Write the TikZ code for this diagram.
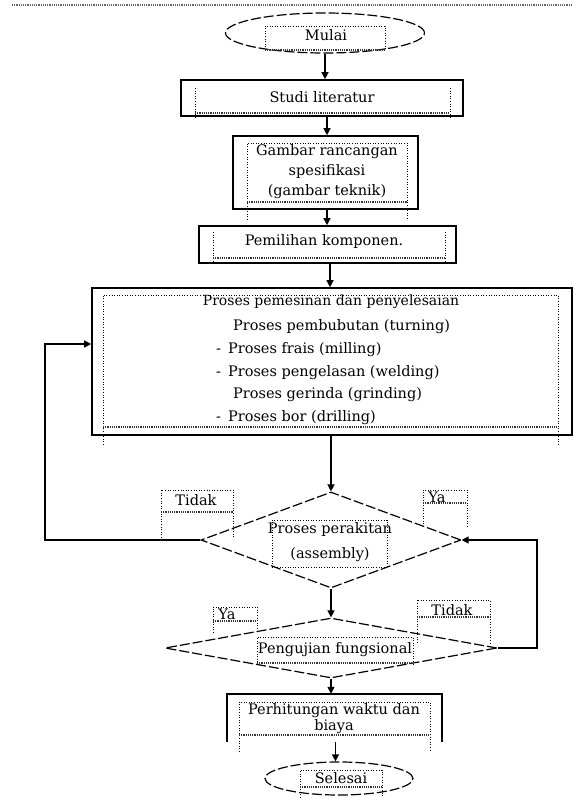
\documentclass[tikz,border=0pt]{standalone}
\usepackage{fontspec}
\setmainfont{DejaVu Serif}
\usetikzlibrary{shapes.geometric,arrows.meta,calc}
\begin{document}
\begin{tikzpicture}[x=1pt,y=-1pt,
  box/.style={draw,line width=1.6pt,inner sep=0pt},
  ell/.style={ellipse,draw,dash pattern=on 10pt off 3pt,line width=1.2pt,inner sep=0pt},
  dia/.style={diamond,draw,dash pattern=on 10pt off 3pt,line width=1.2pt,inner sep=0pt},
  frame/.style={line width=1pt,dash pattern=on 1pt off 1.6pt},
  wavy/.style={line width=1.6pt,dash pattern=on 1.2pt off 1pt,black!80},
  txt/.style={inner sep=0pt,font=\fontsize{14.5}{17}\selectfont,align=center},
  ltxt/.style={txt,anchor=west},
  arr/.style={-{Triangle[length=7pt,width=7pt]},line width=1.3pt}]
\useasboundingbox (0,0) rectangle (573,798);

% top rule
\draw[wavy,black!60] (12,5) -- (573,5);

% ---- shapes
\node[ell,minimum width=199pt,minimum height=40pt] (mulai) at (325,33) {};
\node[box,minimum width=282pt,minimum height=36pt] (studi) at (322,98) {};
\node[box,minimum width=185pt,minimum height=73pt] (gambar) at (325.5,172.5) {};
\node[box,minimum width=257pt,minimum height=37pt] (pilih) at (327.5,244.5) {};
\node[box,minimum width=480pt,minimum height=147pt] (proses) at (332,361.5) {};
\node[dia,minimum width=260pt,minimum height=96pt] (rakit) at (331,540) {};
\node[dia,minimum width=332pt,minimum height=60pt] (uji) at (331,648) {};
\node[inner sep=0pt,minimum width=215pt,minimum height=48pt] (hitung) at (334.5,718) {};
\draw[line width=1.6pt] (hitung.south west) |- (hitung.north east) -- (hitung.south east);
\node[ell,minimum width=148pt,minimum height=33pt] (selesai) at (339,778.5) {};

% ---- dotted text frames
\draw[frame] (265,50) -- (265,26) -- (385,26) -- (385,50); \draw[wavy] (265,50) -- (385,50);
\draw[frame] (195,88) -- (195,117); \draw[frame] (450,88) -- (450,117); \draw[wavy] (195,113) -- (450,113);
\draw[frame] (247,220) -- (247,143) -- (407,143) -- (407,220); \draw[wavy] (247,202) -- (407,202);
\draw[frame] (213,232) -- (213,263); \draw[frame] (445,232) -- (445,263); \draw[wavy] (213,258) -- (445,258);
\draw[frame] (103,445) -- (103,295) -- (558,295) -- (558,445); \draw[wavy] (103,427) -- (558,427);
\draw[frame] (272,567) -- (272,520) -- (387,520) -- (387,567); \draw[frame] (272,567) -- (387,567);
\draw[frame] (161,538) -- (161,490) -- (233,490) -- (233,538); \draw[wavy] (161,512) -- (233,512);
\draw[frame] (423,527) -- (423,490) -- (467,490) -- (467,527); \draw[wavy] (423,503) -- (467,503);
\draw[frame] (257,665) -- (257,637) -- (413,637) -- (413,665); \draw[wavy] (257,663) -- (413,663);
\draw[frame] (213,633) -- (213,607) -- (257,607) -- (257,633); \draw[wavy] (213,621) -- (257,621);
\draw[frame] (417,643) -- (417,600) -- (490,600) -- (490,643); \draw[wavy] (417,617) -- (490,617);
\draw[frame] (239,752) -- (239,702) -- (430,702) -- (430,752); \draw[wavy] (239,735) -- (430,735);
\draw[frame] (300,798) -- (300,770) -- (382,770) -- (382,798); \draw[wavy] (300,787) -- (382,787);

% ---- texts
\node[txt] (tmulai) at (326,35) {Mulai};
\node[txt] (tstudi) at (322,97) {Studi literatur};
\node[txt,font=\fontsize{14.5}{20}\selectfont] (tgambar) at (327,172) {Gambar rancangan\\spesifikasi\\(gambar teknik)};
\node[txt] (tpilih) at (324,241) {Pemilihan komponen.};
\node[txt,font=\fontsize{14}{17}\selectfont] (tp0) at (331,302) {Proses pemesinan dan penyelesaian};
\node[ltxt] (tp1) at (233,327) {Proses pembubutan (turning)};
\node[ltxt] (tp2) at (216,350) {-\hspace{7pt}Proses frais (milling)};
\node[ltxt] (tp3) at (216,373) {-\hspace{7pt}Proses pengelasan (welding)};
\node[ltxt] (tp4) at (233,395) {Proses gerinda (grinding)};
\node[ltxt] (tp5) at (216,418) {-\hspace{7pt}Proses bor (drilling)};
\node[txt,font=\fontsize{14.5}{25}\selectfont] (trakit) at (330,542) {Proses perakitan\\(assembly)};
\node[txt] (ttidak1) at (196,500) {Tidak};
\node[txt] (tya1) at (437,497) {Ya};
\node[txt] (tuji) at (335,650) {Pengujian fungsional};
\node[txt] (tya2) at (227,614) {Ya};
\node[txt] (ttidak2) at (452,610) {Tidak};
\node[txt,font=\fontsize{14.5}{16}\selectfont] (thitung) at (334,719) {Perhitungan waktu dan\\biaya};
\node[txt] (tselesai) at (341,778) {Selesai};

% ---- connectors
\coordinate (L) at (45,344);
\coordinate (R) at (537,540);
\draw[arr] (mulai.south) -- (mulai.south |- studi.north);
\draw[arr] ([xshift=5pt]studi.south) -- ([xshift=5pt]studi.south |- gambar.north);
\draw[arr] ([xshift=1.5pt]gambar.south) -- ([xshift=1.5pt]gambar.south |- pilih.north);
\draw[arr] ([xshift=2.5pt]pilih.south) -- ([xshift=2.5pt]pilih.south |- proses.north);
\draw[arr] (rakit.north |- proses.south) -- (rakit.north);
\draw[arr] (rakit.south) -- (uji.north);
\draw[arr] (uji.south) -- (uji.south |- hitung.north);
\draw[arr] ([xshift=1pt]hitung.south) -- ([xshift=1pt]hitung.south |- selesai.north);
\draw[arr] (rakit.west) -| (L) -- (L -| proses.west);
\draw[arr] (uji.east) -| (R) -- (rakit.east);
\end{tikzpicture}
\end{document}
